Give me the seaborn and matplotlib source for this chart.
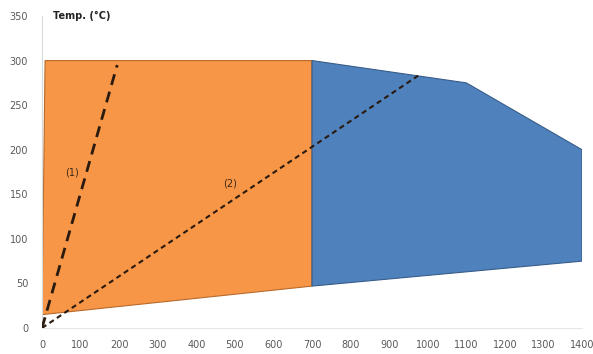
import matplotlib
matplotlib.use("Agg")
import matplotlib.pyplot as plt
import seaborn as sns
import pandas as pd

# Region envelopes (x in the chart's horizontal units, temperature in °C)
orange_x = [0, 8, 700]
orange_top = [15, 300, 300]
orange_bottom_x = [0, 700]
orange_bottom = [15, 47]

blue_x = [700, 1100, 1400]
blue_top = [300, 275, 200]
blue_bottom_x = [700, 1400]
blue_bottom = [47, 75]

# Dashed paths
path1_x = [0, 195]
path1_y = [0, 295]
path2_x = [0, 975]
path2_y = [0, 283]

x_ticks = [0, 100, 200, 300, 400, 500, 600, 700, 800, 900, 1000, 1100, 1200, 1300, 1400]
y_ticks = [0, 50, 100, 150, 200, 250, 300, 350]

sns.set_theme(style="white")
plt.rcParams['font.family'] = ['DejaVu Sans']

fig = plt.figure(figsize=(5.93, 3.54), dpi=100)
ax = fig.add_axes([42/593, 26/354, 540/593, 312/354])

orange = "#F79646"
blue = "#4F81BD"

# Orange region polygon
ox = orange_x + orange_bottom_x[::-1]
oy = orange_top + orange_bottom[::-1]
ax.fill(ox, oy, color=orange, edgecolor="#B86A2C", linewidth=0.8, zorder=2)
# Blue region polygon
bx = blue_x + blue_bottom_x[::-1]
by = blue_top + blue_bottom[::-1]
ax.fill(bx, by, color=blue, edgecolor="#385D8A", linewidth=0.8, zorder=2)

# Dashed paths via seaborn
df1 = pd.DataFrame({"x": path1_x, "y": path1_y})
df2 = pd.DataFrame({"x": path2_x, "y": path2_y})
sns.lineplot(data=df1, x="x", y="y", ax=ax, color="#2a1a10", linewidth=2.0,
             linestyle=(0, (4, 2.5)), zorder=4, sort=False)
sns.lineplot(data=df2, x="x", y="y", ax=ax, color="#2a1a10", linewidth=1.5,
             linestyle=(0, (2.5, 1.8)), zorder=4, sort=False)

ax.text(78, 174, "(1)", fontsize=7, color="#3a2a1a", ha="center", va="center", zorder=5)
ax.text(487, 162, "(2)", fontsize=7, color="#3a2a1a", ha="center", va="center", zorder=5)

ax.text(28, 350, "Temp. (°C)", fontsize=7, fontweight="bold", color="#222222",
        ha="left", va="center")

ax.set_xlim(0, 1400)
ax.set_ylim(0, 350)
ax.set_xticks(x_ticks)
ax.set_yticks(y_ticks)
ax.set_xticklabels([str(v) for v in x_ticks])
ax.set_yticklabels([str(v) for v in y_ticks])
ax.tick_params(axis="x", labelsize=7, colors="#595959", length=0, pad=9)
ax.tick_params(axis="y", labelsize=7, colors="#595959", length=0, pad=10)
ax.set_xlabel("")
ax.set_ylabel("")

for s in ["top", "right"]:
    ax.spines[s].set_visible(False)
ax.spines["left"].set_color("#D9D9D9")
ax.spines["bottom"].set_color("#E6E6E6")
ax.spines["left"].set_linewidth(0.8)
ax.spines["bottom"].set_linewidth(0.8)

fig.savefig("out.png", dpi=100)
